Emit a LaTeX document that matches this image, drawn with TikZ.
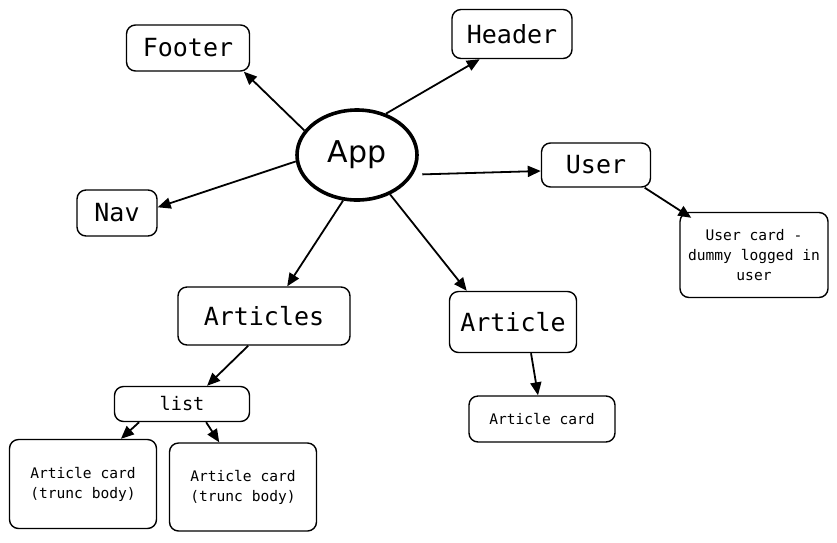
\documentclass[tikz,border=0pt]{standalone}
\usepackage{fontspec}
\setmonofont{DejaVu Sans Mono}
\setsansfont{DejaVu Sans}
\usetikzlibrary{arrows.meta,shapes.geometric}

\tikzset{
  box/.style={draw, rounded corners=9pt, line width=1.4pt, align=center, inner sep=0pt},
  bigbox/.style={box, font=\ttfamily\fontsize{25}{28}\selectfont},
  smallbox/.style={box, font=\ttfamily\fontsize{14.6}{20}\selectfont},
  link/.style={line width=1.8pt, -{Triangle[length=13pt,width=11pt]}},
}

\begin{document}
\begin{tikzpicture}[x=1pt,y=-1pt]
\useasboundingbox (0,0) rectangle (837,542);

\node[ellipse, draw, line width=3.6pt, minimum width=120pt, minimum height=90pt,
  font=\sffamily\fontsize{30}{34}\selectfont] (app) at (357,155) {App};

\node[bigbox, minimum width=123pt, minimum height=46pt] (footer) at (188,48) {Footer};
\node[bigbox, minimum width=120pt, minimum height=49pt] (header) at (512,34) {Header};
\node[bigbox, minimum width=109pt, minimum height=44pt] (user) at (596,165) {User};
\node[bigbox, minimum width=80pt, minimum height=46pt] (nav) at (117,213) {Nav};
\node[bigbox, minimum width=172pt, minimum height=58pt] (articles) at (264,316) {Articles};
\node[bigbox, minimum width=127pt, minimum height=61pt] (article) at (513,322) {Article};
\node[box, font=\ttfamily\fontsize{18.6}{22}\selectfont, minimum width=135pt, minimum height=35pt] (list) at (182,404) {list};

\node[smallbox, minimum width=148pt, minimum height=85pt] (usercard) at (754,255) {User card -\\dummy logged in\\user};
\node[smallbox, minimum width=146pt, minimum height=46pt] (articlecard) at (542,419) {Article card};
\node[smallbox, minimum width=147pt, minimum height=89pt] (cardA) at (83,484) {Article card\\(trunc body)};
\node[smallbox, minimum width=147pt, minimum height=88pt] (cardB) at (243,487) {Article card\\(trunc body)};

\draw[link] (app.155) -- (footer.-23);
\draw[link] (app.55) -- (header.218);
\draw[link] ([xshift=9pt]app.-19) -- ([yshift=-6pt]user.west);
\draw[link] (app.186) -- (nav.8);
\draw[link] (app.-107) -- (articles.52);
\draw[link] (app.-50) -- (article.146);
\draw[link] (user.-25) -- ([xshift=12pt,yshift=-6pt]usercard.north west);
\draw[link] ([xshift=18pt]article.south) -- ([xshift=-4pt]articlecard.north);
\draw[link] (articles.-118) -- (list.36);
\draw[link] (list.-157) -- (cardA.50);
\draw[link] (list.-37) -- (cardB.118);
\end{tikzpicture}
\end{document}
